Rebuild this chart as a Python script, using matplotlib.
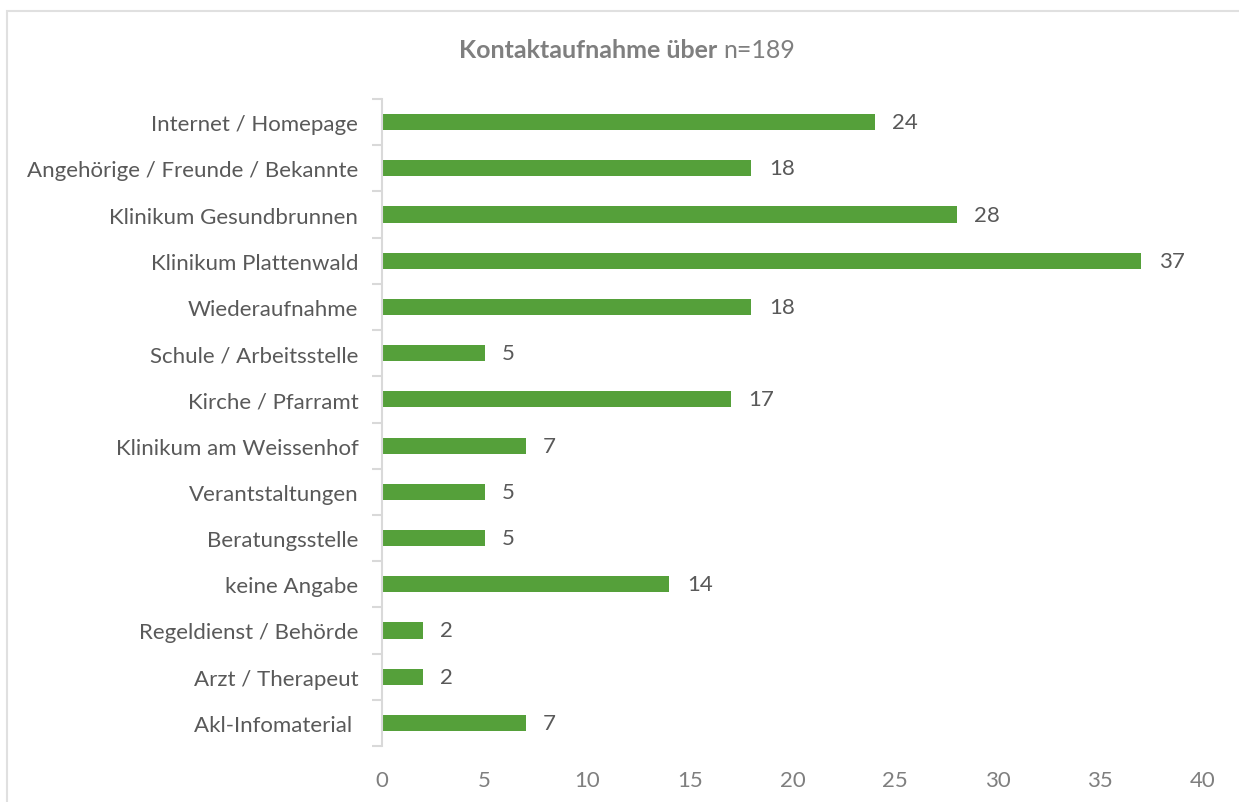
import numpy as np
import matplotlib.pyplot as plt
from matplotlib.patches import Rectangle

# data, top to bottom as in the chart
categories = [
    "Internet / Homepage",
    "Angehörige / Freunde / Bekannte",
    "Klinikum Gesundbrunnen",
    "Klinikum Plattenwald",
    "Wiederaufnahme",
    "Schule / Arbeitsstelle",
    "Kirche / Pfarramt",
    "Klinikum am Weissenhof",
    "Verantstaltungen",
    "Beratungsstelle",
    "keine Angabe",
    "Regeldienst / Behörde",
    "Arzt / Therapeut",
    "Akl-Infomaterial ",
]
values = [24, 18, 28, 37, 18, 5, 17, 7, 5, 5, 14, 2, 2, 7]
xticks = [0, 5, 10, 15, 20, 25, 30, 35, 40]

plt.rcParams['font.family'] = ['Lato', 'DejaVu Sans']

fig = plt.figure(figsize=(12.39, 8.03), dpi=100)
ax = fig.add_axes([0.3083, 0.0697, 0.9709 - 0.3083, 0.8755 - 0.0697])

green = '#55A03A'
y = np.arange(len(categories))
ax.barh(y, values, height=0.35, color=green)
ax.set_ylim(len(categories) - 0.5, -0.5)
ax.set_xlim(0, 40)

for yi, v in zip(y, values):
    ax.text(v + 0.85, yi, str(v), va='center', ha='left', fontsize=16, color='#595959')

ax.set_yticks(y)
ax.set_yticklabels(categories, fontsize=16, color='#595959')
ax.set_yticks(np.arange(len(categories) + 1) - 0.5, minor=True)
ax.tick_params(axis='y', which='major', length=0, pad=17)
ax.tick_params(axis='y', which='minor', length=7, width=1.5, color='#D9D9D9')

ax.set_xticks(xticks)
ax.set_xticklabels([str(t) for t in xticks], fontsize=16, color='#7F7F7F')
ax.tick_params(axis='x', length=0, pad=17)

for s in ['top', 'right', 'bottom']:
    ax.spines[s].set_visible(False)
ax.spines['left'].set_color('#D9D9D9')
ax.spines['left'].set_linewidth(1.5)

# title: bold part + normal part, centred together
ty = 1 - 50 / 803
t1 = fig.text(0, ty, "Kontaktaufnahme über ", fontsize=18, fontweight='bold',
              color='#7F7F7F', ha='left', va='center')
t2 = fig.text(0, ty, "n=189", fontsize=18, color='#7F7F7F', ha='left', va='center')
fig.canvas.draw()
r = fig.canvas.get_renderer()
w1 = t1.get_window_extent(r).width
w2 = t2.get_window_extent(r).width
x0 = 627 - (w1 + w2) / 2
t1.set_x(x0 / 1239)
t2.set_x((x0 + w1) / 1239)

# chart border (only top and left edge visible in the crop)
fig.patches.append(Rectangle((7 / 1239, -0.1), 1.2, 1.1 - 12 / 803,
                             transform=fig.transFigure, fill=False,
                             edgecolor='#E0E0E0', linewidth=1.5))

fig.savefig('out.png', dpi=100)
